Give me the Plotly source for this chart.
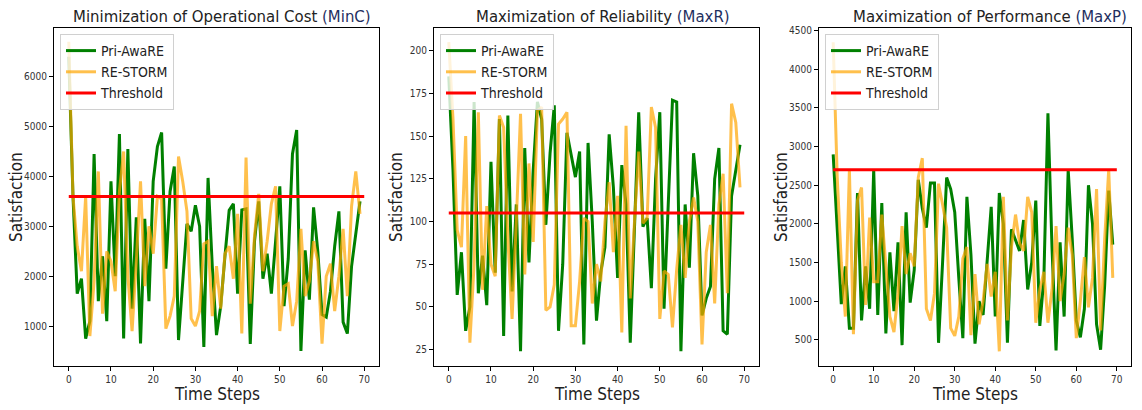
import plotly.graph_objects as go

steps = list(range(70))

minc_pri = [6400, 3600, 1650, 1950, 750, 1100, 4450, 1500, 2400, 1100,
            3900, 2000, 4850, 750, 4550, 1350, 3180, 650, 3150, 1500,
            3900, 4600, 4880, 2150, 3700, 4200, 720, 1900, 3050, 2900,
            3420, 3000, 580, 3970, 2200, 820, 1400, 2400, 3320, 3450,
            1650, 3330, 3350, 640, 2700, 3500, 1950, 2450, 1650, 2700,
            3800, 1400, 2350, 4450, 4930, 500, 2520, 1530, 3380, 2500,
            1230, 1180, 1700, 2600, 3300, 1080, 850, 2200, 2900, 3500]
minc_re = [6700, 3600, 2600, 2100, 3600, 800, 1900, 4100, 1250, 2500,
           2300, 1700, 3700, 4500, 2000, 900, 2300, 3900, 1800, 3000,
           2450, 3600, 3550, 950, 1200, 1600, 4400, 3900, 3300, 1150,
           1000, 1300, 2650, 2700, 1200, 2200, 1350, 2450, 2600, 1950,
           3250, 850, 4380, 1450, 2800, 3650, 2100, 2700, 3450, 3800,
           900, 1800, 1850, 1000, 1500, 2950, 1600, 1900, 2700, 2300,
           650, 2000, 2250, 1300, 2000, 2950, 1600, 3400, 4100, 3250]
minc_thr = 3600

maxr_pri = [185, 130, 57, 82, 36, 50, 170, 58, 80, 51,
            135, 70, 160, 33, 162, 59, 110, 24, 143, 76,
            130, 170, 160, 98, 140, 168, 36, 75, 152, 140,
            126, 141, 28, 146, 100, 42, 70, 85, 151, 120,
            67, 133, 110, 29, 95, 164, 97, 102, 61, 125,
            164, 49, 110, 171, 170, 24, 110, 73, 140, 115,
            45, 55, 62, 125, 143, 36, 34, 115, 130, 145]
maxr_re = [205, 160, 95, 85, 150, 29, 75, 164, 60, 109,
           75, 68, 162, 155, 90, 43, 100, 163, 69, 134,
           88, 165, 167, 48, 50, 63, 157, 160, 164, 39,
           39, 65, 102, 100, 52, 75, 65, 100, 123, 82,
           115, 35, 156, 55, 100, 141, 99, 102, 167, 155,
           43, 71, 69, 38, 72, 98, 67, 100, 114, 100,
           28, 82, 98, 52, 110, 128, 58, 169, 158, 120]
maxr_thr = 105

maxp_pri = [2900, 2000, 960, 1450, 650, 650, 2400, 750, 1450, 900,
            2700, 820, 2270, 580, 1630, 870, 1760, 430, 2150, 980,
            1400, 2570, 2200, 1950, 2530, 2530, 460, 1500, 2600, 2450,
            2150, 1300, 520, 2350, 1600, 450, 1000, 820, 1500, 2220,
            800, 2400, 2000, 460, 1930, 1800, 1650, 2050, 1150, 1500,
            2300, 680, 1300, 3430, 1700, 360, 1760, 800, 2700, 1800,
            750, 530, 900, 2500, 2000, 700, 370, 1200, 2430, 1730]
maxp_re = [4350, 2600, 1500, 800, 2700, 570, 2300, 2470, 950, 2080,
           1250, 1250, 2120, 1400, 800, 600, 1100, 1970, 1350, 1620,
           1450, 2600, 2850, 900, 750, 1100, 2520, 2250, 1950, 650,
           550, 800, 1550, 1700, 560, 1350, 700, 1000, 1480, 1060,
           1380, 350, 2350, 750, 1700, 2120, 1750, 1650, 2350, 2150,
           720, 1150, 1380, 720, 1150, 1970, 1000, 1350, 1950, 1600,
           520, 1000, 1570, 920, 1300, 2450, 620, 1800, 2700, 1300]
maxp_thr = 2700

thr_x = [0, 70]

titles = ["Minimization of Operational Cost ", "Maximization of Reliability ",
          "Maximization of Performance "]
title_tags = ["(MinC)", "(MaxR)", "(MaxP)"]
series_names = ["Pri-AwaRE", "RE-STORM", "Threshold"]
x_title = "Time Steps"
y_title = "Satisfaction"

W, H = 1142, 410


def px(x):
    return x / W


def py(y):
    return 1 - y / H


FONT = "DejaVu Sans Condensed, DejaVu Sans"

panels = [
    dict(pri=minc_pri, re=minc_re, thr=minc_thr, xd=[px(54), px(379)],
         yr=[200, 6975], dt=1000, t0=1000, leg_x=px(60), tx=px(221.5)),
    dict(pri=maxr_pri, re=maxr_re, thr=maxr_thr, xd=[px(434), px(759)],
         yr=[15.4, 213.3], dt=25, t0=25, leg_x=px(440), tx=px(602.5)),
    dict(pri=maxp_pri, re=maxp_re, thr=maxp_thr, xd=[px(819), px(1131)],
         yr=[160, 4535], dt=500, t0=500, leg_x=px(825), tx=px(989.5)),
]

fig = go.Figure()
yd = [py(366), py(28)]
layout = dict(width=W, height=H, margin=dict(l=0, r=0, t=0, b=0),
              plot_bgcolor="white", paper_bgcolor="white",
              font=dict(family=FONT, color="#222"))
annotations = []

for i, p in enumerate(panels):
    n = "" if i == 0 else str(i + 1)
    xa, ya = "x" + n, "y" + n
    lg = "legend" + n
    fig.add_trace(go.Scatter(x=steps, y=p["pri"], mode="lines", name=series_names[0],
                             line=dict(color="#008000", width=3), xaxis=xa, yaxis=ya,
                             legend=lg))
    fig.add_trace(go.Scatter(x=steps, y=p["re"], mode="lines", name=series_names[1],
                             line=dict(color="#FFA500", width=3), opacity=0.7,
                             xaxis=xa, yaxis=ya, legend=lg))
    fig.add_trace(go.Scatter(x=thr_x, y=[p["thr"], p["thr"]], mode="lines",
                             name=series_names[2], line=dict(color="#FF0000", width=3),
                             xaxis=xa, yaxis=ya, legend=lg))
    axcommon = dict(showline=True, linecolor="black", linewidth=1, mirror=True,
                    ticks="outside", ticklen=4, tickcolor="black", showgrid=False,
                    zeroline=False, automargin=False,
                    tickfont=dict(size=10, color="#333", family=FONT))
    layout["xaxis" + n] = dict(domain=p["xd"], range=[-3.5, 73.5], tick0=0, dtick=10,
                               anchor=ya, **axcommon)
    layout["yaxis" + n] = dict(domain=yd, range=p["yr"], tick0=p["t0"], dtick=p["dt"],
                               anchor=xa, **axcommon)
    layout[lg] = dict(x=p["leg_x"], y=py(34), xanchor="left", yanchor="top",
                      xref="paper", yref="paper", bgcolor="rgba(255,255,255,0.8)",
                      bordercolor="#d0d0d0", borderwidth=1,
                      font=dict(size=14, color="#222", family=FONT), tracegroupgap=2)
    cx = (p["xd"][0] + p["xd"][1]) / 2
    annotations.append(dict(
        text=titles[i] + '<span style="color:#1f2f5f">' + title_tags[i] + "</span>",
        x=p["tx"], y=py(16), xref="paper", yref="paper", showarrow=False,
        xanchor="center", yanchor="middle", font=dict(size=16.6, color="#222", family=FONT)))
    annotations.append(dict(
        text=x_title, x=cx, y=py(394), xref="paper", yref="paper", showarrow=False,
        xanchor="center", yanchor="middle", font=dict(size=17, color="#222", family=FONT)))
    annotations.append(dict(
        text=y_title, x=p["xd"][0] - 38 / W, y=(yd[0] + yd[1]) / 2, xref="paper",
        yref="paper", showarrow=False, textangle=-90, xanchor="center",
        yanchor="middle", font=dict(size=17, color="#222", family=FONT)))

layout["annotations"] = annotations
fig.update_layout(**layout)
fig.write_html("out.html", config={"displayModeBar": False, "staticPlot": True},
               post_script="document.body.style.margin='0';document.body.style.overflow='hidden';")
